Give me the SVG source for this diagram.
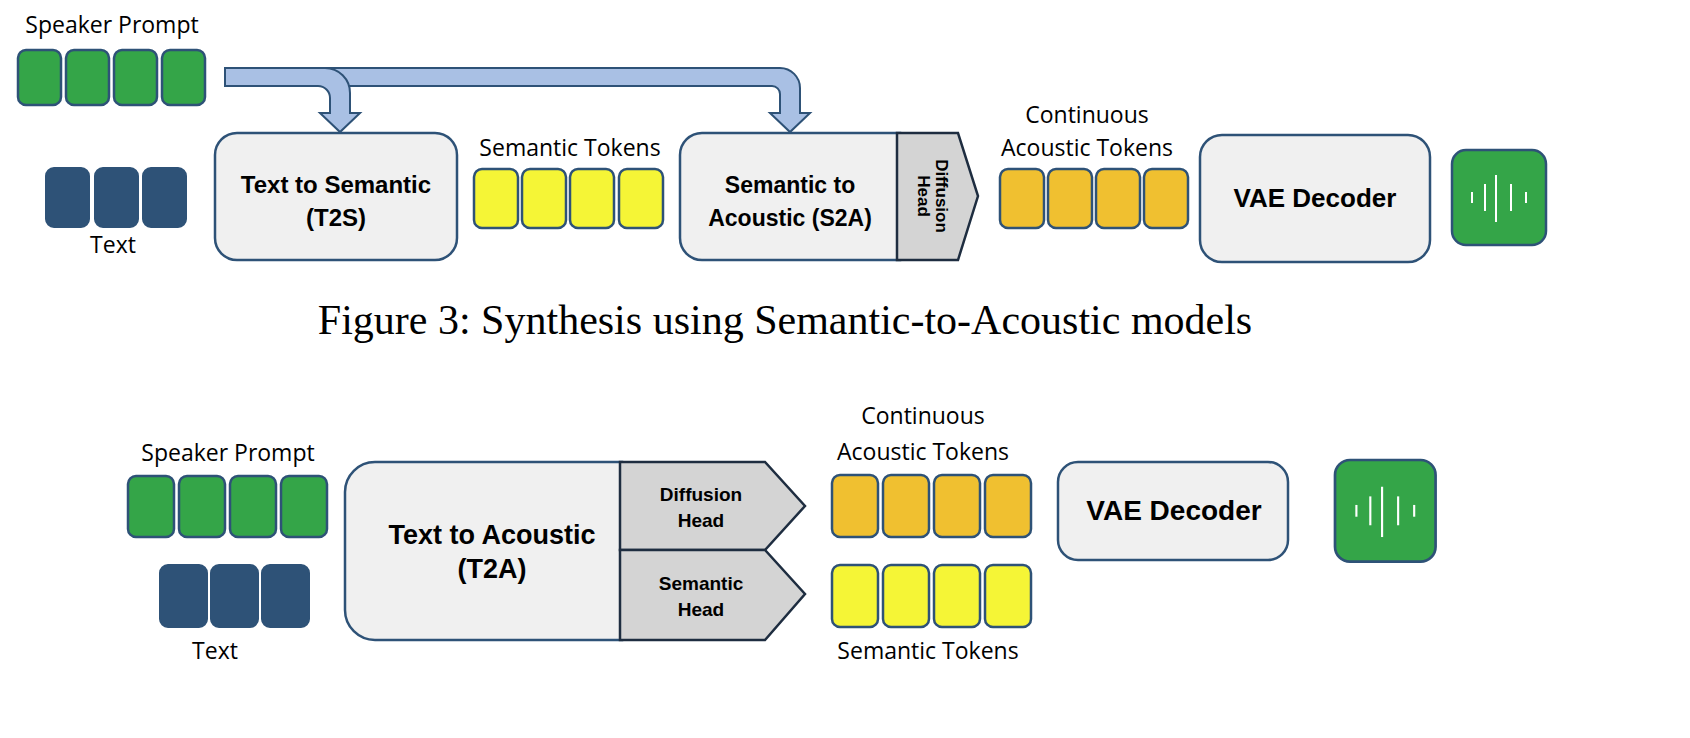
<svg xmlns="http://www.w3.org/2000/svg" width="1690" height="738" viewBox="0 0 1690 738">
<style>
.lbl{font-family:"Open Sans","Liberation Sans",sans-serif;font-size:23px;fill:#000;text-anchor:middle}
.b{font-family:"Liberation Sans",Arial,sans-serif;font-weight:bold;fill:#000;text-anchor:middle}
.g{fill:#34a548;stroke:#2e5277;stroke-width:2.5}
.d{fill:#2e5277;stroke:#2e5277;stroke-width:2}
.y{fill:#f5f536;stroke:#2e5277;stroke-width:2.5}
.o{fill:#f0c030;stroke:#2e5277;stroke-width:2.5}
.box{fill:#f0f0f0;stroke:#2e5277;stroke-width:2.5}
.head{fill:#d4d4d4;stroke:#1e2d40;stroke-width:2.5}
.wave{stroke:#fff;stroke-width:2}
</style>
<defs>
<g id="icon">
<rect x="0" y="0" width="94" height="95" rx="14" class="g"/>
<line x1="20" y1="42" x2="20" y2="53" class="wave"/>
<line x1="33" y1="34" x2="33" y2="61" class="wave"/>
<line x1="44" y1="25" x2="44" y2="72" class="wave"/>
<line x1="59" y1="34" x2="59" y2="61" class="wave"/>
<line x1="74" y1="42" x2="74" y2="53" class="wave"/>
</g>
</defs>
<g id="connectors">
<path d="M225 68 H780 A20 20 0 0 1 800 88 V113 H810 L790 132 L770 113 H780 V94 A8 8 0 0 0 772 86 H225 Z" fill="#a9c0e4" stroke="#2e5277" stroke-width="2"/>
<path d="M312 68 H325 A25 25 0 0 1 350 93 V113 H360 L340 132 L320 113 H330 V98 A12 12 0 0 0 318 86 H312" fill="#a9c0e4" stroke="#2e5277" stroke-width="2"/>
</g>
<g id="top-speaker">
<text x="112" y="33" class="lbl">Speaker Prompt</text>
<rect x="18" y="50" width="43" height="55" rx="8" class="g"/>
<rect x="66" y="50" width="43" height="55" rx="8" class="g"/>
<rect x="114" y="50" width="43" height="55" rx="8" class="g"/>
<rect x="162" y="50" width="43" height="55" rx="8" class="g"/>
</g>
<g id="top-text">
<rect x="46" y="168" width="43" height="59" rx="8" class="d"/>
<rect x="95" y="168" width="43" height="59" rx="8" class="d"/>
<rect x="143" y="168" width="43" height="59" rx="8" class="d"/>
<text x="113" y="253" class="lbl">Text</text>
</g>
<g id="t2s">
<rect x="215" y="133" width="242" height="127" rx="22" class="box"/>
<text x="336" y="193" class="b" font-size="24">Text to Semantic</text>
<text x="336" y="226" class="b" font-size="24">(T2S)</text>
</g>
<g id="top-semantic">
<text x="570" y="156" class="lbl">Semantic Tokens</text>
<rect x="474" y="169" width="44" height="59" rx="8" class="y"/>
<rect x="522" y="169" width="44" height="59" rx="8" class="y"/>
<rect x="570" y="169" width="44" height="59" rx="8" class="y"/>
<rect x="619" y="169" width="44" height="59" rx="8" class="y"/>
</g>
<g id="s2a">
<path d="M900 133 H702 A22 22 0 0 0 680 155 V238 A22 22 0 0 0 702 260 H900 Z" class="box"/>
<path d="M897 133 H958 L978 196 L958 260 H897 Z" class="head"/>
<text x="790" y="193" class="b" font-size="23">Semantic to</text>
<text x="790" y="226" class="b" font-size="23">Acoustic (S2A)</text>
<text transform="translate(933 196) rotate(90)" class="b" font-size="17"><tspan x="0" y="-3">Diffusion</tspan><tspan x="0" y="15">Head</tspan></text>
</g>
<g id="top-acoustic">
<text x="1087" y="123" class="lbl">Continuous</text>
<text x="1087" y="156" class="lbl">Acoustic Tokens</text>
<rect x="1000" y="169" width="44" height="59" rx="8" class="o"/>
<rect x="1048" y="169" width="44" height="59" rx="8" class="o"/>
<rect x="1096" y="169" width="44" height="59" rx="8" class="o"/>
<rect x="1144" y="169" width="44" height="59" rx="8" class="o"/>
</g>
<g id="top-vae">
<rect x="1200" y="135" width="230" height="127" rx="22" class="box"/>
<text x="1315" y="207" class="b" font-size="26">VAE Decoder</text>
</g>
<g id="top-wave"><use href="#icon" x="1452" y="150"/></g>
<text x="785" y="334" font-family="Liberation Serif,serif" font-size="42" text-anchor="middle">Figure 3: Synthesis using Semantic-to-Acoustic models</text>
<g id="bot-speaker">
<text x="228" y="461" class="lbl">Speaker Prompt</text>
<rect x="128" y="476" width="46" height="61" rx="8" class="g"/>
<rect x="179" y="476" width="46" height="61" rx="8" class="g"/>
<rect x="230" y="476" width="46" height="61" rx="8" class="g"/>
<rect x="281" y="476" width="46" height="61" rx="8" class="g"/>
</g>
<g id="bot-text">
<rect x="160" y="565" width="47" height="62" rx="8" class="d"/>
<rect x="211" y="565" width="47" height="62" rx="8" class="d"/>
<rect x="262" y="565" width="47" height="62" rx="8" class="d"/>
<text x="215" y="659" class="lbl">Text</text>
</g>
<g id="t2a">
<path d="M622 462 H375 A30 30 0 0 0 345 492 V610 A30 30 0 0 0 375 640 H622 Z" class="box"/>
<text x="492" y="544" class="b" font-size="27">Text to Acoustic</text>
<text x="492" y="578" class="b" font-size="27">(T2A)</text>
<path d="M620 462 H765 L805 506 L765 550 H620 Z" class="head"/>
<path d="M620 550 H765 L805 594 L765 640 H620 Z" class="head"/>
<text x="701" y="501" class="b" font-size="19">Diffusion</text>
<text x="701" y="527" class="b" font-size="19">Head</text>
<text x="701" y="590" class="b" font-size="19">Semantic</text>
<text x="701" y="616" class="b" font-size="19">Head</text>
</g>
<g id="bot-acoustic">
<text x="923" y="424" class="lbl">Continuous</text>
<text x="923" y="460" class="lbl">Acoustic Tokens</text>
<rect x="832" y="475" width="46" height="62" rx="8" class="o"/>
<rect x="883" y="475" width="46" height="62" rx="8" class="o"/>
<rect x="934" y="475" width="46" height="62" rx="8" class="o"/>
<rect x="985" y="475" width="46" height="62" rx="8" class="o"/>
</g>
<g id="bot-semantic">
<rect x="832" y="565" width="46" height="62" rx="8" class="y"/>
<rect x="883" y="565" width="46" height="62" rx="8" class="y"/>
<rect x="934" y="565" width="46" height="62" rx="8" class="y"/>
<rect x="985" y="565" width="46" height="62" rx="8" class="y"/>
<text x="928" y="659" class="lbl">Semantic Tokens</text>
</g>
<g id="bot-vae">
<rect x="1058" y="462" width="230" height="98" rx="20" class="box"/>
<text x="1174" y="520" class="b" font-size="28">VAE Decoder</text>
</g>
<g id="bot-wave"><use href="#icon" transform="translate(1335 460) scale(1.07)"/></g>
</svg>
